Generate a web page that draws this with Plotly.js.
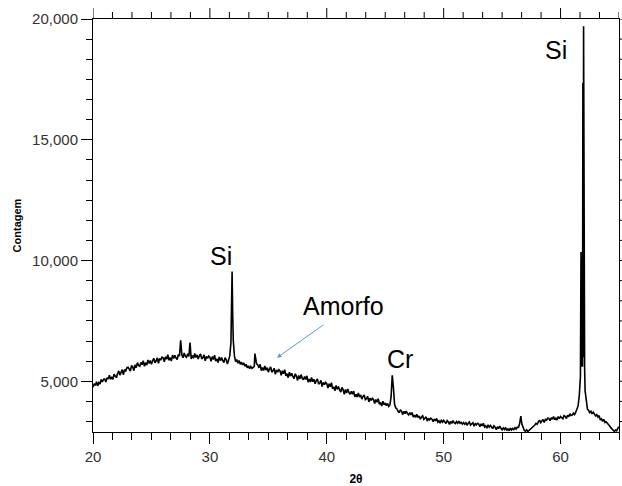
<!DOCTYPE html>
<html>
<head>
<meta charset="utf-8">
<script src="https://cdn.plot.ly/plotly-3.0.1.min.js"></script>
<style>html,body{margin:0;padding:0;background:#fff;}#chart{width:622px;height:486px;}</style>
</head>
<body>
<div id="chart"></div>
<script>
// 2θ positions (degrees)
const twoTheta = [
  20.0,20.1,20.2,20.3,20.4,20.5,20.6,20.7,20.8,20.9,
  21.0,21.1,21.2,21.3,21.4,21.5,21.6,21.7,21.8,21.9,
  22.0,22.1,22.2,22.3,22.4,22.5,22.6,22.7,22.8,22.9,
  23.0,23.1,23.2,23.3,23.4,23.5,23.6,23.7,23.8,23.9,
  24.0,24.1,24.2,24.3,24.4,24.5,24.6,24.7,24.8,24.9,
  25.0,25.1,25.2,25.3,25.4,25.5,25.6,25.7,25.8,25.9,
  26.0,26.1,26.2,26.3,26.4,26.5,26.6,26.7,26.8,26.9,
  27.0,27.1,27.2,27.3,27.4,27.5,27.6,27.7,27.8,27.9,
  28.0,28.1,28.2,28.3,28.4,28.5,28.6,28.7,28.8,28.9,
  29.0,29.1,29.2,29.3,29.4,29.5,29.6,29.7,29.8,29.9,
  30.0,30.1,30.2,30.3,30.4,30.5,30.6,30.7,30.8,30.9,
  31.0,31.1,31.2,31.3,31.4,31.5,31.6,31.7,31.8,31.85,31.9,31.95,
  32.0,32.1,32.2,32.3,32.4,32.5,32.6,32.7,32.8,32.9,
  33.0,33.1,33.2,33.3,33.4,33.5,33.6,33.7,33.8,33.85,33.9,
  34.0,34.1,34.2,34.3,34.4,34.5,34.6,34.7,34.8,34.9,
  35.0,35.1,35.2,35.3,35.4,35.5,35.6,35.7,35.8,35.9,
  36.0,36.1,36.2,36.3,36.4,36.5,36.6,36.7,36.8,36.9,
  37.0,37.1,37.2,37.3,37.4,37.5,37.6,37.7,37.8,37.9,
  38.0,38.1,38.2,38.3,38.4,38.5,38.6,38.7,38.8,38.9,
  39.0,39.1,39.2,39.3,39.4,39.5,39.6,39.7,39.8,39.9,
  40.0,40.1,40.2,40.3,40.4,40.5,40.6,40.7,40.8,40.9,
  41.0,41.1,41.2,41.3,41.4,41.5,41.6,41.7,41.8,41.9,
  42.0,42.1,42.2,42.3,42.4,42.5,42.6,42.7,42.8,42.9,
  43.0,43.1,43.2,43.3,43.4,43.5,43.6,43.7,43.8,43.9,
  44.0,44.1,44.2,44.3,44.4,44.5,44.6,44.7,44.8,44.9,
  45.0,45.1,45.2,45.3,45.4,45.5,45.6,45.7,45.8,45.9,
  46.0,46.1,46.2,46.3,46.4,46.5,46.6,46.7,46.8,46.9,
  47.0,47.1,47.2,47.3,47.4,47.5,47.6,47.7,47.8,47.9,
  48.0,48.1,48.2,48.3,48.4,48.5,48.6,48.7,48.8,48.9,
  49.0,49.1,49.2,49.3,49.4,49.5,49.6,49.7,49.8,49.9,
  50.0,50.1,50.2,50.3,50.4,50.5,50.6,50.7,50.8,50.9,
  51.0,51.1,51.2,51.3,51.4,51.5,51.6,51.7,51.8,51.9,
  52.0,52.1,52.2,52.3,52.4,52.5,52.6,52.7,52.8,52.9,
  53.0,53.1,53.2,53.3,53.4,53.5,53.6,53.7,53.8,53.9,
  54.0,54.1,54.2,54.3,54.4,54.5,54.6,54.7,54.8,54.9,
  55.0,55.1,55.2,55.3,55.4,55.5,55.6,55.7,55.8,55.9,
  56.0,56.1,56.2,56.3,56.4,56.5,56.6,56.7,56.8,56.9,
  57.0,57.1,57.2,57.3,57.4,57.5,57.6,57.7,57.8,57.9,
  58.0,58.1,58.2,58.3,58.4,58.5,58.6,58.7,58.8,58.9,
  59.0,59.1,59.2,59.3,59.4,59.5,59.6,59.7,59.8,59.9,
  60.0,60.1,60.2,60.3,60.4,60.5,60.6,60.7,60.8,60.9,
  61.0,61.1,61.2,61.3,61.4,61.5,61.6,61.7,61.75,61.8,61.85,61.88,61.91,61.94,61.97,
  62.0,62.03,62.06,62.1,62.2,62.3,62.4,62.5,62.6,62.7,62.8,62.9,
  63.0,63.1,63.2,63.3,63.4,63.5,63.6,63.7,63.8,63.9,
  64.0,64.1,64.2,64.3,64.4,64.5,64.6,64.7,64.8,64.9,65.0
];
// Counts
const counts = [
  4750,4895,4830,4985,4810,4945,4890,5075,4970,5085,
  5090,4970,5150,5090,5250,5080,5180,5080,5290,5190,
  5150,5315,5430,5255,5340,5485,5270,5485,5430,5565,
  5580,5478,5426,5654,5592,5440,5678,5566,5774,5652,
  5620,5782,5684,5856,5618,5770,5672,5884,5736,5858,
  5700,5852,5954,5766,5838,5970,5742,5944,5876,5998,
  5970,5808,6016,5914,6102,5870,5978,5836,6084,5942,
  6080,5965,5900,6115,6040,6700,6100,5975,6170,6035,
  5990,6137,6024,6600,5928,6065,5952,6149,5986,6093,
  5920,6053,6136,5929,5982,6095,5848,6031,5944,6047,
  6000,5825,6020,5905,6080,5835,5930,5775,6010,5855,
  5980,5853,5776,5979,5892,5715,5928,6050,6600,7700,9550,7800,
  6700,6050,5820,5900,5750,5860,5700,5790,5680,5760,
  5620,5700,5560,5640,5520,5610,5540,5580,5620,6150,5900,
  5720,5678,5556,5704,5442,5570,5448,5636,5464,5562,
  5380,5510,5590,5380,5430,5540,5290,5470,5380,5480,
  5430,5247,5434,5311,5478,5225,5312,5149,5376,5213,
  5330,5197,5114,5311,5218,5035,5242,5099,5276,5123,
  5060,5198,5076,5224,4962,5090,4968,5156,4984,5082,
  4900,5025,5100,4885,4930,5035,4780,4955,4860,4955,
  4900,4715,4900,4775,4940,4685,4770,4605,4830,4665,
  4780,4642,4554,4746,4648,4460,4662,4514,4686,4528,
  4465,4583,4466,4594,4352,4460,4348,4511,4349,4432,
  4260,4370,4435,4240,4280,4375,4145,4300,4210,4295,
  4245,4076,4242,4133,4279,4050,4126,3977,4178,4029,
  4100,3990,4080,3960,4020,4350,5250,4750,4050,3900,
  3855,3755,3695,3825,3755,3620,3760,3655,3770,3660,
  3610,3700,3605,3705,3515,3595,3505,3630,3500,3565,
  3430,3520,3570,3420,3455,3525,3350,3470,3405,3475,
  3430,3323,3436,3359,3462,3310,3363,3266,3404,3307,
  3380,3300,3255,3375,3320,3215,3340,3260,3370,3280,
  3245,3331,3262,3353,3264,3300,3226,3292,3223,3284,
  3180,3261,3312,3188,3219,3285,3136,3247,3198,3259,
  3230,3122,3234,3156,3258,3105,3157,3059,3196,3098,
  3170,3088,3041,3159,3102,2995,3118,3036,3144,3052,
  2990,3070,3000,3090,2960,3040,2950,3060,2980,3050,
  3000,3080,3020,3100,3090,3250,3560,3220,3030,2960,
  2930,2990,2920,2960,3000,3050,3080,3150,3190,3260,
  3220,3320,3390,3285,3335,3420,3290,3420,3390,3470,
  3460,3366,3492,3428,3544,3405,3472,3397,3538,3454,
  3540,3476,3447,3583,3544,3455,3596,3532,3658,3584,
  3600,3680,3620,3720,3850,3980,4400,5200,10350,5600,8300,5600,17350,6000,19700,
  8200,17350,5500,4600,4100,3850,3790,3700,3760,3650,3720,3620,
  3565,3620,3520,3580,3395,3445,3340,3425,3295,3325,
  3280,3200,3150,3080,3020,2960,2920,2980,2950,3050,3120
];
const yTickVals = [5000, 10000, 15000, 20000];
const xTickVals = [20, 30, 40, 50, 60];
const xMinorStep = 10 / 6;
const yMinorStep = 5000 / 6;

const peakLabels = ["Si", "Si", "Amorfo", "Cr"];
const peakLabelX = [30.95, 59.6, 41.4, 46.26];
const peakLabelY = [10206, 18713, 8131, 5932];

const xRange = [20, 65];
const yRange = [2900, 20000];

const trace = {
  x: twoTheta, y: counts, type: 'scatter', mode: 'lines',
  line: {color: '#000', width: 1.6}, hoverinfo: 'skip'
};

const FONT = 'Liberation Sans, Arial, sans-serif';
const tickFont = {family: FONT, size: 15, color: '#333'};
const annotations = peakLabels.map((t, i) => ({
  x: peakLabelX[i], y: peakLabelY[i], xref: 'x', yref: 'y', text: t, showarrow: false,
  font: {family: FONT, size: 25, color: '#000'}
}));
annotations.push({
  x: 35.74, y: 5973, ax: 39.85, ay: 7384, xref: 'x', yref: 'y', axref: 'x', ayref: 'y',
  text: '', showarrow: true, arrowhead: 2, arrowsize: 0.9, arrowwidth: 1, arrowcolor: '#5B9BD5'
});

const M = {l: 93, r: 3, t: 19, b: 54};
const W = 622, H = 486;
const plotW = W - M.l - M.r, plotH = H - M.t - M.b;

// mirrored tick marks on the top and right frame (drawn as shapes at the axis tick values)
const shapes = [];
function addTopTick(v, len) {
  shapes.push({type: 'line', xref: 'x', yref: 'paper', x0: v, x1: v, y0: 1, y1: 1 + len / plotH,
    line: {color: '#000', width: 1}, layer: 'above'});
}
function addRightTick(v, len) {
  shapes.push({type: 'line', xref: 'paper', yref: 'y', x0: 1, x1: 1 + len / plotW, y0: v, y1: v,
    line: {color: '#000', width: 1}, layer: 'above'});
}
for (let v = xRange[0]; v <= xRange[1] + 1e-6; v += xMinorStep) {
  const major = xTickVals.some(t => Math.abs(t - v) < 1e-6);
  addTopTick(v, major ? 11 : 7);
}
for (let v = yTickVals[0] - 2 * yMinorStep; v <= yRange[1] + 1e-6; v += yMinorStep) {
  if (v < yRange[0]) continue;
  const major = yTickVals.some(t => Math.abs(t - v) < 1e-6);
  addRightTick(v, major ? 11 : 6);
}

const layout = {
  width: W, height: H,
  margin: M,
  paper_bgcolor: '#fff', plot_bgcolor: '#fff',
  showlegend: false,
  xaxis: {
    range: xRange, tickvals: xTickVals, ticks: 'outside', ticklen: 11, tickwidth: 1,
    tickcolor: '#000', linecolor: '#000', linewidth: 1, showline: true, mirror: true,
    showgrid: false, zeroline: false, tickfont: tickFont,
    minor: {dtick: xMinorStep, tick0: 20, ticks: 'outside', ticklen: 7, tickcolor: '#000', showgrid: false},
    title: {text: '2θ', font: {family: FONT, size: 12, color: '#000', weight: 'bold'}, standoff: 10}
  },
  yaxis: {
    range: yRange, tickvals: yTickVals, tickformat: ',', ticks: 'outside', ticklen: 11, tickwidth: 1,
    tickcolor: '#000', linecolor: '#000', linewidth: 1, showline: true, mirror: true,
    showgrid: false, zeroline: false, tickfont: tickFont,
    minor: {dtick: yMinorStep, tick0: 5000, ticks: 'outside', ticklen: 6, tickcolor: '#000', showgrid: false},
    title: {text: 'Contagem', font: {family: FONT, size: 11, color: '#000', weight: 'bold'}, standoff: 8}
  },
  shapes: shapes,
  annotations: annotations
};

Plotly.newPlot('chart', [trace], layout, {staticPlot: true, displayModeBar: false});
</script>
</body>
</html>
